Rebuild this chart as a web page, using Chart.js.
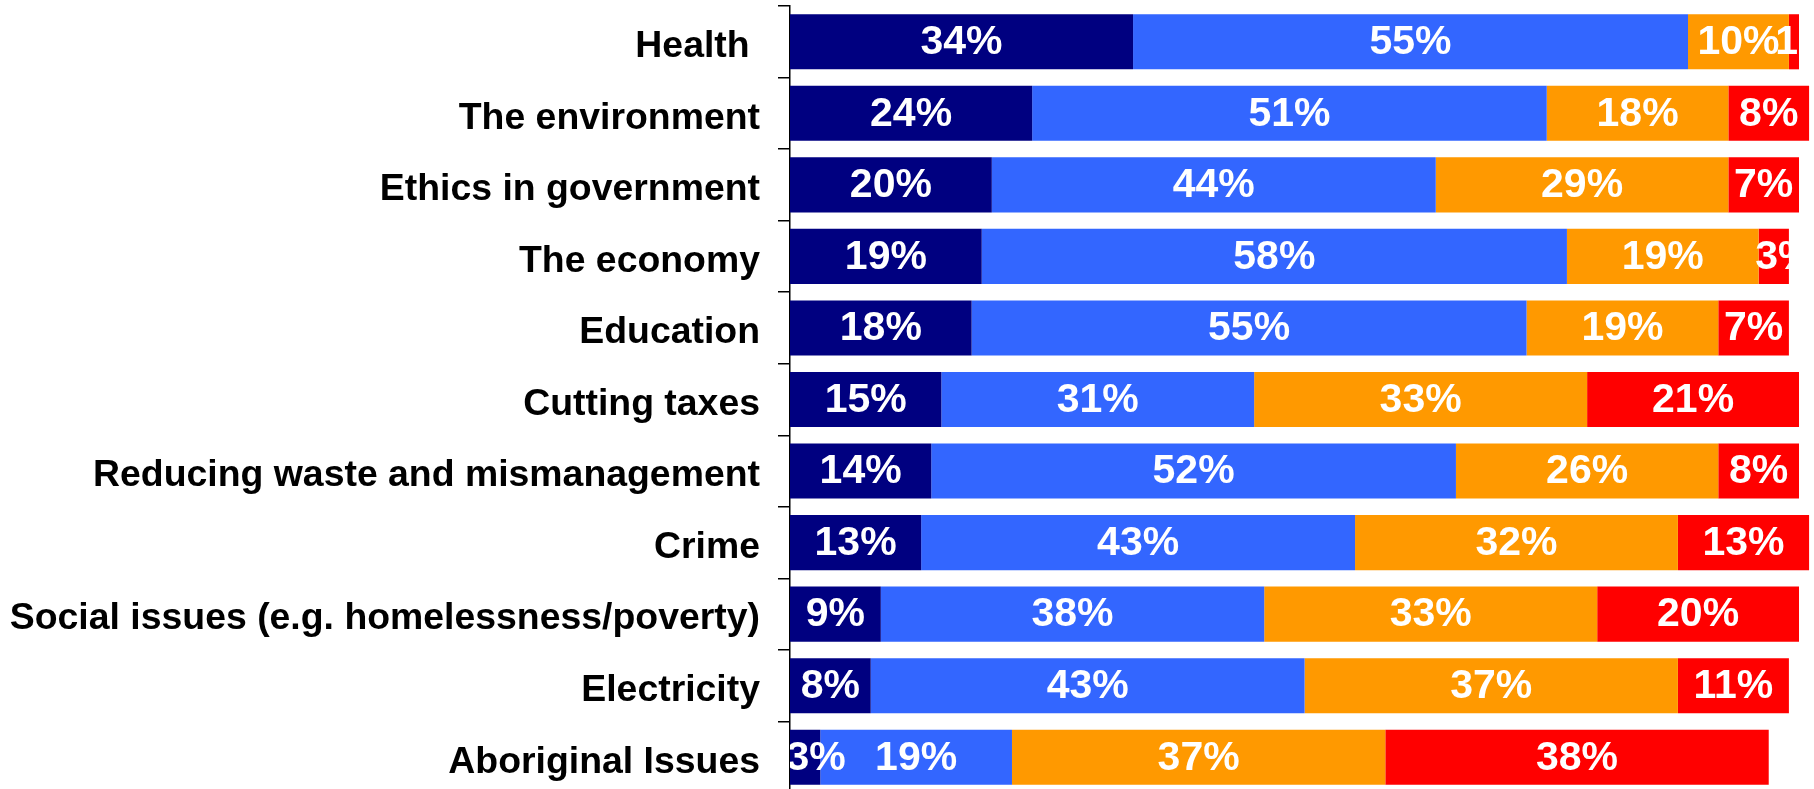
<!DOCTYPE html>
<html>
<head>
<meta charset="utf-8">
<script src="https://cdn.jsdelivr.net/npm/chart.js@4.4.1/dist/chart.umd.min.js"></script>
<style>
  html, body { margin: 0; padding: 0; background: #fff; overflow: hidden; }
  #wrap { position: relative; width: 1814px; height: 795px; }
</style>
</head>
<body>
<div id="wrap"><canvas id="issuesChart"></canvas></div>
<script>
// Categories (top to bottom)
var categories = ['Health ', 'The environment', 'Ethics in government', 'The economy', 'Education',
  'Cutting taxes', 'Reducing waste and mismanagement', 'Crime',
  'Social issues (e.g. homelessness/poverty)', 'Electricity', 'Aboriginal Issues'];

// Series values (%)
var seriesNames = ['Very important', 'Important', 'Somewhat important', 'Not important'];
var veryImportant = [34, 24, 20, 19, 18, 15, 14, 13, 9, 8, 3];
var important = [55, 51, 44, 58, 55, 31, 52, 43, 38, 43, 19];
var somewhat = [10, 18, 29, 19, 19, 33, 26, 32, 33, 37, 37];
var notImportant = [1, 8, 7, 3, 7, 21, 8, 13, 20, 11, 38];

var seriesColors = ['#000080', '#3366FF', '#FF9900', '#FF0000'];

// draws the white % labels, clipped to each bar row
var segmentLabels = {
  id: 'segmentLabels',
  afterDatasetsDraw: function (chart) {
    var ctx = chart.ctx;
    var area = chart.chartArea;
    var n = chart.data.labels.length;
    ctx.font = 'bold 41px "Liberation Sans", Arial, sans-serif';
    for (var i = 0; i < n; i++) {
      var rowEnd = area.left;
      chart.data.datasets.forEach(function (ds, d) {
        var el = chart.getDatasetMeta(d).data[i];
        if (el && el.x > rowEnd) rowEnd = el.x;
      });
      chart.data.datasets.forEach(function (ds, d) {
        var el = chart.getDatasetMeta(d).data[i];
        if (!el) return;
        var h = el.height;
        var txt = ds.data[i] + '%';
        var cx = (el.x + el.base) / 2;
        // labels wider than their segment sit a bit to the right
        if (ctx.measureText(txt).width > el.x - el.base) cx += 11;
        ctx.save();
        ctx.beginPath();
        ctx.rect(area.left, el.y - h / 2, rowEnd - area.left, h);
        ctx.clip();
        ctx.fillStyle = '#fff';
        ctx.textAlign = 'center';
        ctx.textBaseline = 'middle';
        ctx.fillText(txt, cx, el.y + 1);
        ctx.restore();
      });
    }
  }
};

document.addEventListener("DOMContentLoaded", () => {
  var ctx = document.getElementById('issuesChart').getContext('2d');
  var allSeries = [veryImportant, important, somewhat, notImportant];

  new Chart(ctx, {
    type: 'bar',
    data: {
      labels: categories,
      datasets: allSeries.map(function (vals, k) {
        return {
          label: seriesNames[k],
          data: vals,
          backgroundColor: seriesColors[k],
          borderWidth: 0,
          categoryPercentage: 1,
          barPercentage: 0.77,
          clip: false
        };
      })
    },
    options: {
      indexAxis: 'y',
      responsive: true,
      maintainAspectRatio: false,
      animation: false,
      layout: { padding: { top: 6, right: 15, bottom: 2, left: 0 } },
      plugins: {
        legend: { display: false },
        tooltip: { enabled: false }
      },
      scales: {
        x: {
          stacked: true,
          min: 0,
          max: 100,
          display: false
        },
        y: {
          stacked: true,
          grid: {
            offset: true,
            drawOnChartArea: false,
            drawTicks: true,
            tickLength: 12,
            color: '#000',
            lineWidth: 1.5
          },
          border: { display: true, color: '#000', width: 1.5 },
          ticks: {
            color: '#000',
            autoSkip: false,
            padding: 18,
            labelOffset: 5,
            font: { family: '"Liberation Sans", Arial, sans-serif', size: 37.4, weight: 'bold' }
          },
          afterFit: function (scale) {
            scale.width = 790;
            // no extra room for the first/last label
            scale.paddingTop = 0;
            scale.paddingBottom = 0;
          }
        }
      }
    },
    plugins: [segmentLabels]
  });
});
</script>
</body>
</html>
